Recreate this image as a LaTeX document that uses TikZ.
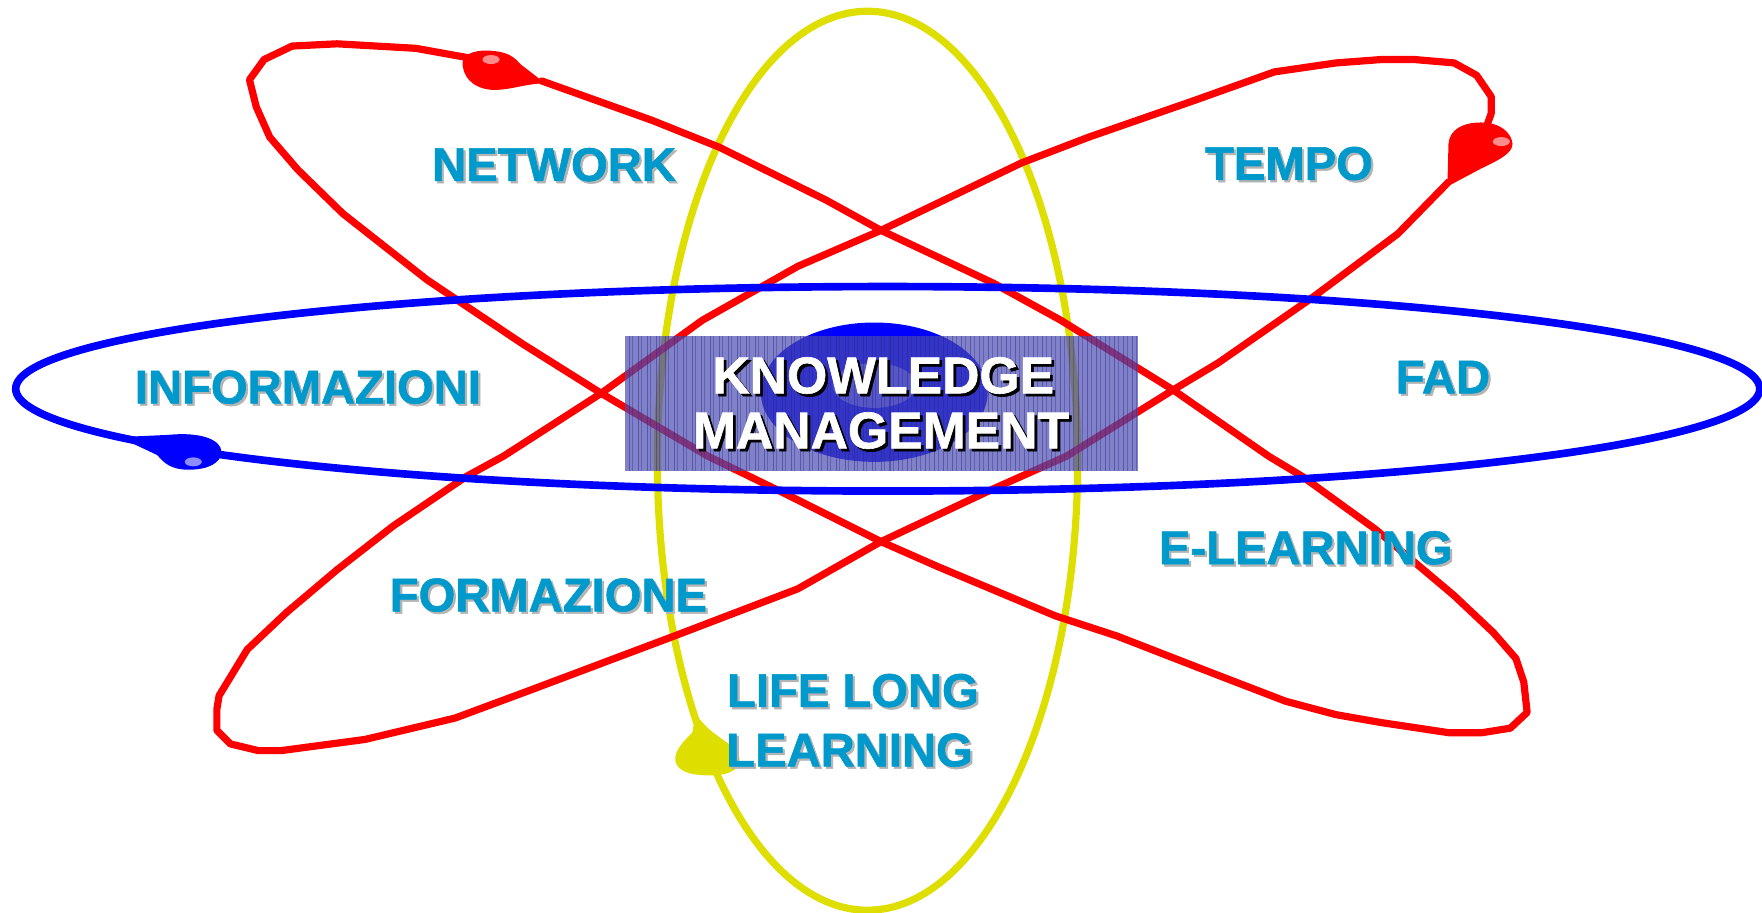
\documentclass[tikz,border=0pt]{standalone}
\usepackage{fontspec}
\setmainfont{Liberation Sans}[BoldFeatures={FakeBold=1.2}]
\definecolor{lblcol}{RGB}{0,153,204}
\definecolor{shcol}{RGB}{180,180,180}
\definecolor{redorb}{RGB}{255,0,0}
\definecolor{blueorb}{RGB}{0,0,255}
\definecolor{yelorb}{RGB}{222,222,0}
\definecolor{boxcol}{RGB}{75,75,175}
\definecolor{gridcol}{RGB}{35,35,150}
\newcommand{\shlabel}[4]{%
  \node[lblsh] (#1sh) at (#2+2,#3+2) {#4};
  \node[lbl] (#1) at (#2,#3) {#4};}
\begin{document}
\begin{tikzpicture}[x=0.5pt,y=-0.5pt,
  orbit/.style={line width=3.2pt, line join=round, line cap=round},
  lbl/.style={font=\fontsize{21}{24}\selectfont\bfseries, text=lblcol, anchor=base, inner sep=0pt},
  lblsh/.style={font=\fontsize{21}{24}\selectfont\bfseries, text=shcol, anchor=base, inner sep=0pt},
  km/.style={font=\fontsize{23}{26}\selectfont\bfseries, text=white, anchor=base, inner sep=0pt},
  kmsh/.style={font=\fontsize{23}{26}\selectfont\bfseries, text=black, anchor=base, inner sep=0pt}]
\useasboundingbox (0,0) rectangle (1568,811.6);
% yellow orbit
\draw[orbit, yelorb] (772,410) ellipse [x radius=93.5pt, y radius=200pt];
% red orbit A
\draw[orbit, redorb] (482,72) -- (580,107) -- (640,131) -- (735,178) -- (784,205) -- (884,252) -- (944,285) -- (1044,347) -- (1129,406) -- (1159,424) -- (1224,471) -- (1294,530) -- (1329,563) -- (1349,586) -- (1356,607) -- (1359,634) -- (1344,648) -- (1319,652) -- (1289,652) -- (1229,643) -- (1189,636) -- (1144,624) -- (1079,599) -- (994,566) -- (939,548) -- (834,504) -- (784,482) -- (700,440) -- (630,406) -- (535,350) -- (465,306) -- (380,249) -- (305,190) -- (265,151) -- (240,122) -- (228,95) -- (222,71) -- (235,53) -- (260,41) -- (300,39) -- (370,43) -- (420,52);
% red orbit B
\draw[orbit, redorb] (1289,162) -- (1244,208) -- (1169,264) -- (1084,323) -- (1044,347) -- (949,406) -- (884,435) -- (784,482) -- (710,524) -- (600,566) -- (475,613) -- (405,639) -- (325,658) -- (280,664) -- (250,668) -- (230,668) -- (205,662) -- (193,650) -- (193,631) -- (195,619) -- (220,578) -- (255,545) -- (300,507) -- (350,468) -- (415,424) -- (448,406) -- (535,350) -- (625,285) -- (710,237) -- (784,205) -- (909,145) -- (969,122) -- (1064,89) -- (1134,64) -- (1189,56) -- (1229,53) -- (1259,53) -- (1294,56) -- (1314,67) -- (1327,86) -- (1327,101) -- (1322,115);
% blue orbit
\draw[blueorb, line width=3.4pt] (790,346) ellipse [x radius=388pt, y radius=45.5pt];
% electrons
\fill[redorb] (485,74) -- (463,57) .. controls (455,47) and (445,45) .. (430,45) .. controls (415,46) and (410,52) .. (412,60) .. controls (414,72) and (425,80) .. (440,80) .. controls (455,80) and (465,75) .. (485,74) -- cycle;
\fill[red!45!white] (437,53) ellipse [x radius=3.8pt, y radius=2pt];
\fill[redorb] (1288,166) -- (1289,128) .. controls (1290,115) and (1302,109) .. (1318,109) .. controls (1335,109) and (1345,118) .. (1346,128) .. controls (1346,136) and (1335,142) .. (1318,150) -- cycle;
\fill[red!45!white] (1336,126) ellipse [x radius=3.8pt, y radius=2pt];
\fill[blueorb] (106,389) -- (150,387) .. controls (180,384) and (197,392) .. (197,402) .. controls (197,412) and (185,418) .. (168,418) .. controls (152,418) and (146,412) .. (140,405) -- cycle;
\fill[blue!45!white] (172,411) ellipse [x radius=3.8pt, y radius=2pt];
\fill[yelorb] (619,636) -- (616,652) .. controls (608,660) and (600,668) .. (601,677) .. controls (603,687) and (615,690) .. (632,690) .. controls (650,690) and (660,684) .. (658,674) .. controls (656,664) and (640,658) .. (628,646) -- cycle;
% nucleus
\fill[blueorb] (778,349) ellipse [x radius=50.5pt, y radius=31pt];
\fill[blue!55!white] (778,343) ellipse [x radius=18.5pt, y radius=10pt];
\fill[boxcol, opacity=0.7] (556,299) rectangle (1013,419);
\begin{scope}
\clip (556,299) rectangle (1013,419);
\draw[gridcol, line width=0.45pt, opacity=0.45, xstep=8, ystep=8] (556,299) grid (1013,419);
\draw[gridcol, line width=0.3pt, opacity=0.35, xstep=8, ystep=8, shift={(3,3)}] (553,296) grid (1013,419);
\end{scope}
\node[kmsh] (kmAsh) at (788.5,352.5) {KNOWLEDGE};
\node[km] (kmA) at (786,350) {KNOWLEDGE};
\node[kmsh] (kmBsh) at (786.5,401.5) {MANAGEMENT};
\node[km] (kmB) at (784,399) {MANAGEMENT};
% labels
\shlabel{network}{493}{161}{NETWORK}
\shlabel{tempo}{1147}{160}{TEMPO}
\shlabel{informazioni}{274}{359}{INFORMAZIONI}
\shlabel{fad}{1284}{350}{FAD}
\shlabel{elearning}{1162}{502}{E-LEARNING}
\shlabel{formazione}{488}{544}{FORMAZIONE}
\shlabel{lifelong}{759}{629}{LIFE LONG}
\shlabel{learning}{756}{682}{LEARNING}
\end{tikzpicture}
\end{document}
